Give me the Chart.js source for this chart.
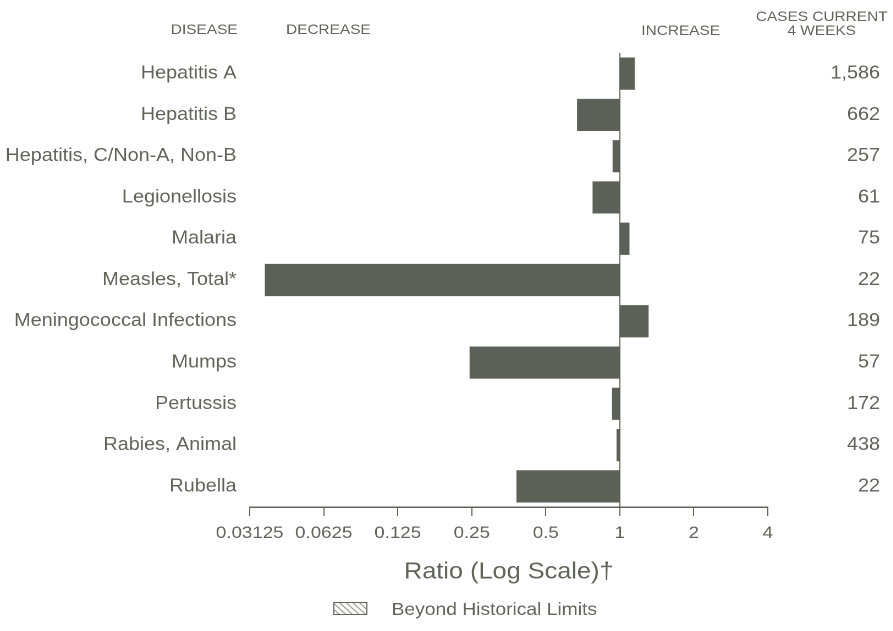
<!DOCTYPE html>
<html>
<head>
<meta charset="utf-8">
<script src="https://cdn.jsdelivr.net/npm/chart.js@4/dist/chart.umd.min.js"></script>
<style>
  html, body { margin: 0; padding: 0; background: #fff; overflow: hidden; }
  /* the original type is set a little wide, so the whole chart is stretched sideways */
  #wrap { width: 812px; height: 631px; transform: scaleX(1.1); transform-origin: 0 0; }
</style>
</head>
<body>
<div id="wrap"><canvas id="myChart" width="812" height="631"></canvas></div>
<script>
const diseases = [
  "Hepatitis A", "Hepatitis B", "Hepatitis, C/Non-A, Non-B", "Legionellosis",
  "Malaria", "Measles, Total*", "Meningococcal Infections", "Mumps",
  "Pertussis", "Rabies, Animal", "Rubella"
];
const ratios = [1.15, 0.67, 0.935, 0.775, 1.095, 0.036, 1.31, 0.245, 0.93, 0.97, 0.38];
const cases = ["1,586", "662", "257", "61", "75", "22", "189", "57", "172", "438", "22"];
const ratioTicks = [0.03125, 0.0625, 0.125, 0.25, 0.5, 1, 2, 4];
const legendText = "Beyond Historical Limits";

const ink = "#60655a";
const barColor = "#5b6156";
const font = "'Liberation Sans', Arial, sans-serif";

// hatched fill for the legend box
function hatch(ctx) {
  const c = document.createElement("canvas");
  c.width = 6; c.height = 6;
  const g = c.getContext("2d");
  g.fillStyle = "#fff";
  g.fillRect(0, 0, 6, 6);
  g.strokeStyle = ink;
  g.lineWidth = 1;
  g.beginPath();
  g.moveTo(0, 0); g.lineTo(6, 6);
  g.moveTo(-3, 3); g.lineTo(3, 9);
  g.moveTo(3, -3); g.lineTo(9, 3);
  g.stroke();
  return ctx.createPattern(c, "repeat");
}

// column headings and the legend line
const headers = {
  id: "headers",
  afterDraw(chart) {
    const ctx = chart.ctx;
    ctx.save();
    ctx.fillStyle = ink;
    ctx.font = "14px " + font;
    ctx.textBaseline = "middle";
    ctx.textAlign = "right";
    ctx.fillText("DISEASE", 216, 30);
    ctx.textAlign = "left";
    ctx.fillText("DECREASE", 260, 30);
    ctx.fillText("INCREASE", 583, 31);
    ctx.textAlign = "center";
    ctx.fillText("CASES CURRENT", 747, 17);
    ctx.fillText("4 WEEKS", 747, 31);

    ctx.fillStyle = hatch(ctx);
    ctx.fillRect(303, 602, 31, 13);
    ctx.strokeStyle = ink;
    ctx.lineWidth = 1;
    ctx.strokeRect(303.5, 602.5, 30, 12);
    ctx.fillStyle = ink;
    ctx.font = "17.5px " + font;
    ctx.textAlign = "left";
    ctx.fillText(legendText, 356, 610);
    ctx.restore();
  }
};

let data = {
  labels: diseases,
  datasets: [
    {
      label: "Ratio",
      data: ratios.map(v => [1, v]),
      backgroundColor: barColor,
      borderWidth: 0
    }
  ]
};

let config = {
  type: "bar",
  data: data,
  plugins: [headers],
  options: {
    indexAxis: "y",
    responsive: false,
    animation: false,
    devicePixelRatio: 2,
    categoryPercentage: 1,
    barPercentage: 0.78,
    layout: { padding: { top: 53, bottom: 33, left: 0, right: 12 } },
    plugins: {
      tooltip: { enabled: false },
      legend: { display: false }
    },
    scales: {
      x: {
        type: "logarithmic",
        min: 0.03125,
        max: 4,
        afterBuildTicks: axis => {
          axis.ticks = ratioTicks.map(v => ({ value: v }));
        },
        ticks: {
          color: ink,
          font: { family: font, size: 17 },
          padding: 7,
          autoSkip: false,
          maxRotation: 0,
          callback: value => String(value)
        },
        grid: {
          drawOnChartArea: true,
          color: c => (c.tick && c.tick.value === 1 ? ink : "rgba(0,0,0,0)"),
          tickColor: ink,
          tickLength: 9,
          lineWidth: 1
        },
        border: { display: true, color: ink, width: 1.5 },
        title: {
          display: true,
          text: "Ratio (Log Scale)†",
          color: ink,
          font: { family: font, size: 23 },
          padding: { top: 8, bottom: 12 }
        }
      },
      y: {
        position: "left",
        afterFit: axis => { axis.width = 227; },
        grid: { display: false, drawTicks: false },
        border: { display: false },
        ticks: {
          color: ink,
          padding: 12,
          font: { family: font, size: 18 }
        }
      },
      y2: {
        type: "category",
        display: true,
        position: "right",
        labels: cases,
        offset: true,
        afterFit: axis => { axis.width = 102; },
        grid: { display: false, drawTicks: false },
        border: { display: false },
        ticks: {
          color: ink,
          crossAlign: "far",
          padding: 0,
          font: { family: font, size: 18 }
        }
      }
    }
  }
};

const myChart = new Chart(document.getElementById("myChart"), config);
</script>
</body>
</html>
